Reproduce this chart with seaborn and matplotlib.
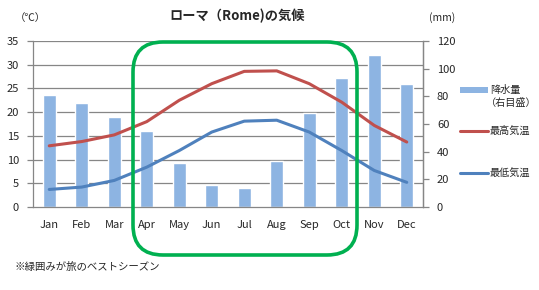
import numpy as np
import pandas as pd
import matplotlib
matplotlib.use("Agg")
import matplotlib.pyplot as plt
from matplotlib.patches import FancyBboxPatch, Rectangle
from matplotlib.lines import Line2D
import seaborn as sns

months = ["Jan", "Feb", "Mar", "Apr", "May", "Jun", "Jul", "Aug", "Sep", "Oct", "Nov", "Dec"]
precip_mm = [81, 75, 65, 55, 32, 16, 14, 33, 68, 93, 110, 89]
max_temp = [12.9, 13.8, 15.2, 18.0, 22.5, 26.0, 28.6, 28.7, 26.0, 22.1, 17.2, 13.7]
min_temp = [3.7, 4.2, 5.6, 8.4, 11.9, 15.8, 18.1, 18.3, 15.8, 11.9, 7.7, 5.2]
temp_ticks = [0, 5, 10, 15, 20, 25, 30, 35]
precip_ticks = [0, 20, 40, 60, 80, 100, 120]

title = "ローマ（Rome)の気候"
left_unit = "（℃）"
right_unit = "(mm)"
legend_labels = ["降水量", "（右目盛）", "最高気温", "最低気温"]
footnote = "※緑囲みが旅のベストシーズン"

sns.set_style("white")
plt.rcParams["font.family"] = ["Noto Sans CJK JP", "DejaVu Sans"]

BAR = "#8db4e2"
RED = "#c0504d"
BLUE = "#4f81bd"
GREEN = "#00b050"
GRAY = "#868686"
TICK_FS = 8

W, H = 539, 290
fig = plt.figure(figsize=(W / 100, H / 100), dpi=100)

def fx(px):
    return px / W

def fy(py):
    return 1 - py / H

x0, x1, ytop, ybot = 33, 423, 41, 207
ax_bar = fig.add_axes([fx(x0), fy(ybot), fx(x1 - x0), (ybot - ytop) / H])

df = pd.DataFrame({"month": months, "precip": precip_mm, "tmax": max_temp,
                   "tmin": min_temp, "idx": np.arange(len(months))})

# gridlines of the temperature scale, behind bars
tmax_axis = temp_ticks[-1]
pmax_axis = precip_ticks[-1]
for t in temp_ticks[1:]:
    ax_bar.axhline(t * pmax_axis / tmax_axis, color=GRAY, lw=0.9, zorder=0)

sns.barplot(data=df, x="month", y="precip", color=BAR, width=0.41,
            saturation=1, ax=ax_bar, zorder=2)
ax_bar.set_ylim(0, pmax_axis)
ax_bar.set_xlim(-0.5, len(months) - 0.5)
ax_bar.yaxis.tick_right()
ax_bar.set_yticks(precip_ticks)
ax_bar.set_ylabel("")
ax_bar.set_xlabel("")

ax_line = ax_bar.twinx()
ax_line.yaxis.tick_left()
ax_line.yaxis.set_label_position("left")
sns.lineplot(data=df, x="idx", y="tmax", color=RED, lw=2.2, ax=ax_line)
sns.lineplot(data=df, x="idx", y="tmin", color=BLUE, lw=2.2, ax=ax_line)
ax_line.set_ylim(0, tmax_axis)
ax_line.set_yticks(temp_ticks)
ax_line.set_ylabel("")
ax_line.set_xlabel("")
ax_line.set_xlim(-0.5, len(months) - 0.5)

for a in (ax_bar, ax_line):
    for s in a.spines.values():
        s.set_color(GRAY)
        s.set_linewidth(0.9)
    a.spines["top"].set_visible(False)

ax_bar.spines["left"].set_visible(False)
ax_line.spines["bottom"].set_visible(False)

ax_bar.set_xticks(np.arange(len(months)))
ax_bar.set_xticklabels(months)
ax_bar.set_xticks(np.arange(len(months) + 1) - 0.5, minor=True)
ax_bar.tick_params(axis="x", which="major", length=0, pad=9, labelsize=TICK_FS)
ax_bar.tick_params(axis="x", which="minor", length=4, color=GRAY, width=0.9, direction="out")
ax_bar.tick_params(axis="y", which="major", length=4, color=GRAY, width=0.9,
                   direction="out", right=True, left=False, labelright=True,
                   labelleft=False, labelsize=TICK_FS, pad=6)
ax_line.tick_params(axis="y", which="major", length=4, color=GRAY, width=0.9,
                    direction="out", left=True, right=False, labelleft=True,
                    labelright=False, labelsize=TICK_FS, pad=6)
ax_line.tick_params(axis="x", bottom=False, labelbottom=False)

ax_line.set_zorder(ax_bar.get_zorder() + 1)
ax_line.patch.set_visible(False)

# texts
fig.text(fx(237), fy(16), title, ha="center", va="center", fontsize=9.5, fontweight="bold")
fig.text(fx(30), fy(18), left_unit, ha="center", va="center", fontsize=7.5)
fig.text(fx(442), fy(18), right_unit, ha="center", va="center", fontsize=7.5)
fig.text(fx(14), fy(267), footnote, ha="left", va="center", fontsize=7.5)

# legend
LEG_FS = 7.3
fig.add_artist(Rectangle((fx(460), fy(92.5)), fx(28), 5 / H, transform=fig.transFigure,
                         facecolor=BAR, edgecolor="none"))
fig.text(fx(490), fy(90), legend_labels[0], ha="left", va="center", fontsize=LEG_FS)
fig.text(fx(486), fy(103), legend_labels[1], ha="left", va="center", fontsize=LEG_FS)
fig.add_artist(Line2D([fx(460), fx(488)], [fy(131), fy(131)], color=RED, lw=2.2,
                      transform=fig.transFigure))
fig.text(fx(490), fy(131), legend_labels[2], ha="left", va="center", fontsize=LEG_FS)
fig.add_artist(Line2D([fx(460), fx(488)], [fy(173), fy(173)], color=BLUE, lw=2.2,
                      transform=fig.transFigure))
fig.text(fx(490), fy(173), legend_labels[3], ha="left", va="center", fontsize=LEG_FS)

# best season box
bx0, bx1, by0, by1 = 133, 357, 42, 255
rad = 30
box = FancyBboxPatch((fx(bx0 + rad), fy(by1 - rad)), fx(bx1 - bx0 - 2 * rad),
                     (by1 - by0 - 2 * rad) / H,
                     boxstyle=f"round,pad={rad / W},rounding_size={rad / W}",
                     transform=fig.transFigure, fill=False, edgecolor=GREEN,
                     lw=2.6, mutation_aspect=W / H, zorder=10)
fig.add_artist(box)

fig.savefig("out.png", dpi=100)
